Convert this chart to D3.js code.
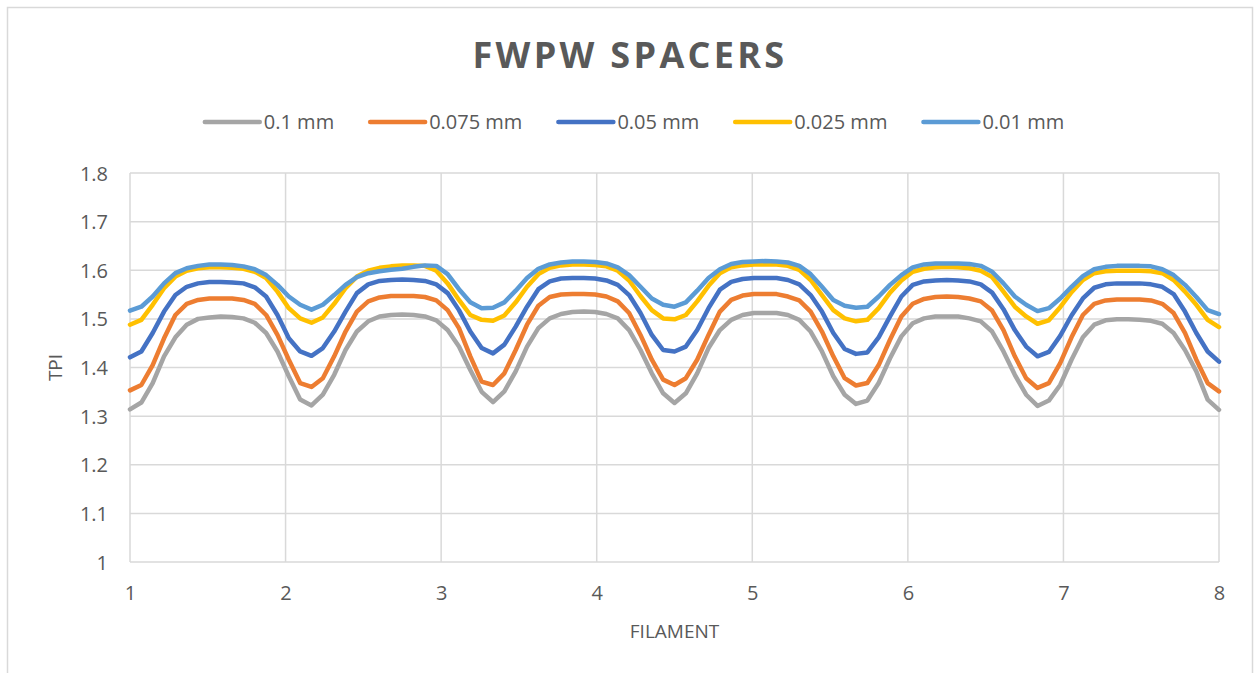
<!DOCTYPE html>
<html>
<head>
<meta charset="utf-8">
<script src="https://cdn.jsdelivr.net/npm/d3@7"></script>
<style>
  html, body { margin: 0; padding: 0; background: #fff; }
  svg { display: block; font-family: "Open Sans", "Noto Sans", sans-serif; }
</style>
</head>
<body>
<svg id="chart" width="1257" height="673"></svg>
<script>
// Filament positions (x) shared by every series
const filament = [
  1, 1.0729, 1.1458, 1.2188, 1.2917, 1.3646, 1.4375, 1.5104, 1.5833, 1.6563, 1.7292, 1.8021, 1.875, 1.9479, 2.0208, 2.0938,
  2.1667, 2.2396, 2.3125, 2.3854, 2.4583, 2.5313, 2.6042, 2.6771, 2.75, 2.8229, 2.8958, 2.9688, 3.0417, 3.1146, 3.1875, 3.2604,
  3.3333, 3.4063, 3.4792, 3.5521, 3.625, 3.6979, 3.7708, 3.8438, 3.9167, 3.9896, 4.0625, 4.1354, 4.2083, 4.2813, 4.3542, 4.4271,
  4.5, 4.5729, 4.6458, 4.7188, 4.7917, 4.8646, 4.9375, 5.0104, 5.0833, 5.1563, 5.2292, 5.3021, 5.375, 5.4479, 5.5208, 5.5938,
  5.6667, 5.7396, 5.8125, 5.8854, 5.9583, 6.0313, 6.1042, 6.1771, 6.25, 6.3229, 6.3958, 6.4688, 6.5417, 6.6146, 6.6875, 6.7604,
  6.8333, 6.9063, 6.9792, 7.0521, 7.125, 7.1979, 7.2708, 7.3438, 7.4167, 7.4896, 7.5625, 7.6354, 7.7083, 7.7813, 7.8542, 7.9271,
  8
];

// TPI per spacer thickness
const tpi_0100 = [
  1.314, 1.328, 1.368, 1.423, 1.462, 1.488, 1.500, 1.503, 1.505, 1.504, 1.501, 1.492, 1.471, 1.433, 1.382, 1.334,
  1.322, 1.344, 1.385, 1.436, 1.474, 1.495, 1.505, 1.508, 1.509, 1.508, 1.505, 1.497, 1.477, 1.443, 1.395, 1.350,
  1.329, 1.351, 1.392, 1.443, 1.481, 1.501, 1.510, 1.514, 1.515, 1.514, 1.510, 1.501, 1.477, 1.436, 1.388, 1.347,
  1.327, 1.347, 1.388, 1.440, 1.477, 1.498, 1.508, 1.512, 1.512, 1.512, 1.508, 1.498, 1.474, 1.433, 1.382, 1.344,
  1.325, 1.332, 1.368, 1.419, 1.464, 1.491, 1.501, 1.505, 1.505, 1.505, 1.501, 1.495, 1.474, 1.433, 1.385, 1.344,
  1.321, 1.332, 1.364, 1.416, 1.462, 1.488, 1.497, 1.499, 1.499, 1.498, 1.496, 1.490, 1.471, 1.436, 1.392, 1.334,
  1.313
];
const tpi_0075 = [
  1.353, 1.364, 1.405, 1.460, 1.508, 1.531, 1.539, 1.542, 1.542, 1.542, 1.539, 1.531, 1.508, 1.467, 1.416, 1.368,
  1.360, 1.378, 1.423, 1.474, 1.515, 1.536, 1.544, 1.547, 1.547, 1.547, 1.545, 1.538, 1.518, 1.481, 1.423, 1.371,
  1.364, 1.388, 1.436, 1.488, 1.527, 1.545, 1.550, 1.551, 1.551, 1.550, 1.546, 1.536, 1.512, 1.467, 1.416, 1.375,
  1.364, 1.378, 1.416, 1.467, 1.515, 1.539, 1.548, 1.551, 1.551, 1.551, 1.546, 1.538, 1.515, 1.474, 1.423, 1.378,
  1.363, 1.368, 1.405, 1.457, 1.505, 1.531, 1.541, 1.545, 1.546, 1.545, 1.542, 1.536, 1.517, 1.477, 1.423, 1.378,
  1.358, 1.368, 1.409, 1.462, 1.508, 1.531, 1.538, 1.540, 1.540, 1.540, 1.538, 1.531, 1.512, 1.471, 1.416, 1.368,
  1.351
];
const tpi_0050 = [
  1.421, 1.433, 1.471, 1.515, 1.549, 1.566, 1.573, 1.576, 1.576, 1.575, 1.573, 1.565, 1.546, 1.508, 1.460, 1.433,
  1.424, 1.440, 1.474, 1.515, 1.553, 1.571, 1.578, 1.580, 1.581, 1.580, 1.578, 1.571, 1.553, 1.518, 1.474, 1.440,
  1.429, 1.447, 1.484, 1.525, 1.561, 1.577, 1.583, 1.584, 1.584, 1.583, 1.579, 1.570, 1.549, 1.512, 1.467, 1.436,
  1.433, 1.443, 1.477, 1.522, 1.560, 1.576, 1.582, 1.584, 1.584, 1.584, 1.580, 1.571, 1.549, 1.515, 1.471, 1.438,
  1.428, 1.431, 1.462, 1.505, 1.546, 1.570, 1.577, 1.579, 1.580, 1.579, 1.577, 1.571, 1.554, 1.520, 1.477, 1.443,
  1.423, 1.432, 1.465, 1.507, 1.542, 1.564, 1.571, 1.573, 1.573, 1.573, 1.571, 1.566, 1.551, 1.515, 1.471, 1.433,
  1.412
];
const tpi_0025 = [
  1.488, 1.498, 1.529, 1.563, 1.587, 1.599, 1.604, 1.606, 1.606, 1.605, 1.603, 1.597, 1.584, 1.556, 1.522, 1.501,
  1.492, 1.503, 1.531, 1.563, 1.587, 1.599, 1.605, 1.608, 1.610, 1.610, 1.609, 1.599, 1.573, 1.539, 1.508, 1.498,
  1.496, 1.507, 1.534, 1.566, 1.592, 1.605, 1.610, 1.612, 1.612, 1.611, 1.608, 1.599, 1.579, 1.547, 1.518, 1.501,
  1.499, 1.508, 1.536, 1.568, 1.594, 1.606, 1.610, 1.612, 1.612, 1.612, 1.609, 1.601, 1.580, 1.549, 1.518, 1.501,
  1.495, 1.498, 1.522, 1.554, 1.579, 1.597, 1.603, 1.606, 1.607, 1.606, 1.604, 1.599, 1.586, 1.556, 1.525, 1.505,
  1.490, 1.497, 1.524, 1.555, 1.580, 1.594, 1.598, 1.599, 1.599, 1.599, 1.598, 1.594, 1.580, 1.556, 1.529, 1.498,
  1.483
];
const tpi_0010 = [
  1.517, 1.525, 1.546, 1.573, 1.594, 1.604, 1.609, 1.612, 1.612, 1.611, 1.608, 1.602, 1.590, 1.570, 1.546, 1.529,
  1.519, 1.529, 1.549, 1.570, 1.586, 1.594, 1.598, 1.601, 1.603, 1.607, 1.610, 1.609, 1.592, 1.561, 1.534, 1.522,
  1.523, 1.534, 1.558, 1.584, 1.603, 1.612, 1.616, 1.618, 1.618, 1.617, 1.614, 1.606, 1.590, 1.566, 1.542, 1.529,
  1.525, 1.534, 1.558, 1.584, 1.602, 1.613, 1.617, 1.618, 1.619, 1.618, 1.616, 1.609, 1.592, 1.566, 1.539, 1.527,
  1.523, 1.525, 1.546, 1.570, 1.590, 1.606, 1.612, 1.614, 1.614, 1.614, 1.613, 1.609, 1.597, 1.573, 1.546, 1.529,
  1.516, 1.522, 1.542, 1.566, 1.588, 1.602, 1.607, 1.609, 1.609, 1.609, 1.608, 1.602, 1.590, 1.570, 1.545, 1.518,
  1.510
];

const seriesNames = ["0.1 mm", "0.075 mm", "0.05 mm", "0.025 mm", "0.01 mm"];
const seriesValues = [tpi_0100, tpi_0075, tpi_0050, tpi_0025, tpi_0010];
const seriesColors = ["#A5A5A5", "#ED7D31", "#4472C4", "#FFC000", "#5B9BD5"];

const xTicks = [1, 2, 3, 4, 5, 6, 7, 8];
const yTicks = [1, 1.1, 1.2, 1.3, 1.4, 1.5, 1.6, 1.7, 1.8];

const chartTitle = "FWPW SPACERS";
const xTitle = "FILAMENT";
const yTitle = "TPI";

// ---- layout ----
const svg = d3.select("#chart");
const plot = { left: 130, right: 1219, top: 173, bottom: 562 };
const gridColor = "#D9D9D9";
const textColor = "#595959";

// outer chart frame
svg.append("rect")
  .attr("x", 7.5).attr("y", 7.5)
  .attr("width", 1245).attr("height", 720)
  .attr("fill", "#fff")
  .attr("stroke", gridColor).attr("stroke-width", 1.5);

const x = d3.scaleLinear().domain([1, 8]).range([plot.left, plot.right]);
const y = d3.scaleLinear().domain([1, 1.8]).range([plot.bottom, plot.top]);

// gridlines
const grid = svg.append("g").attr("stroke", gridColor).attr("stroke-width", 1.5);
grid.selectAll("line.h").data(yTicks).join("line")
  .attr("class", "h")
  .attr("x1", plot.left).attr("x2", plot.right)
  .attr("y1", d => y(d)).attr("y2", d => y(d));
grid.selectAll("line.v").data(xTicks).join("line")
  .attr("class", "v")
  .attr("x1", d => x(d)).attr("x2", d => x(d))
  .attr("y1", plot.top).attr("y2", plot.bottom);

// axes (labels only; gridlines drawn above)
const xAxis = d3.axisBottom(x).tickValues(xTicks).tickSize(0).tickPadding(0).tickFormat(d3.format("d"));
const gx = svg.append("g").attr("transform", `translate(0,${plot.bottom})`).call(xAxis);
gx.select(".domain").remove();
gx.selectAll("text")
  .attr("y", 31).attr("dy", "0.35em")
  .attr("fill", textColor).style("font-size", "20px")
  .style("font-family", "'Open Sans', sans-serif");

const yAxis = d3.axisLeft(y).tickValues(yTicks).tickSize(0).tickPadding(0)
  .tickFormat(d => (Math.round(d * 10) / 10).toString());
const gy = svg.append("g").attr("transform", `translate(${plot.left},0)`).call(yAxis);
gy.select(".domain").remove();
gy.selectAll("text")
  .attr("x", -22).attr("dy", "0.35em")
  .attr("fill", textColor).style("font-size", "20px")
  .style("font-family", "'Open Sans', sans-serif");

// axis titles
svg.append("text")
  .attr("x", (plot.left + plot.right) / 2).attr("y", 631).attr("dy", "0.35em")
  .attr("text-anchor", "middle").attr("fill", textColor)
  .style("font-size", "19px").text(xTitle);

svg.append("text")
  .attr("transform", `translate(55,${(plot.top + plot.bottom) / 2}) rotate(-90)`)
  .attr("dy", "0.35em")
  .attr("text-anchor", "middle").attr("fill", textColor)
  .style("font-size", "19px").text(yTitle);

// title
svg.append("text")
  .attr("x", 630).attr("y", 68)
  .attr("text-anchor", "middle").attr("fill", textColor)
  .style("font-size", "36px").style("font-weight", "700")
  .style("letter-spacing", "3.3px")
  .text(chartTitle);

// series lines
const line = d3.line()
  .x((d, i) => x(filament[i]))
  .y(d => y(d));

svg.append("g").selectAll("path").data(seriesValues).join("path")
  .attr("d", d => line(d))
  .attr("fill", "none")
  .attr("stroke", (d, i) => seriesColors[i])
  .attr("stroke-width", 4.5)
  .attr("stroke-linejoin", "round")
  .attr("stroke-linecap", "round");

// legend
const legend = svg.append("g");
const sampleLen = 55, sampleGap = 4, itemGap = 36, legendY = 122;
const items = legend.selectAll("g").data(seriesNames).join("g");
items.append("line")
  .attr("x1", 0).attr("x2", sampleLen)
  .attr("y1", 0).attr("y2", 0)
  .attr("stroke", (d, i) => seriesColors[i])
  .attr("stroke-width", 4.5)
  .attr("stroke-linecap", "round");
items.append("text")
  .attr("x", sampleLen + sampleGap).attr("dy", "0.35em")
  .attr("fill", textColor).style("font-size", "20px")
  .text(d => d);

let widths = [];
items.each(function () { widths.push(this.getBBox().width); });
const total = d3.sum(widths) + itemGap * (widths.length - 1);
let cursor = 634.5 - total / 2;
items.attr("transform", (d, i) => {
  const t = `translate(${cursor},${legendY})`;
  cursor += widths[i] + itemGap;
  return t;
});
</script>
</body>
</html>
